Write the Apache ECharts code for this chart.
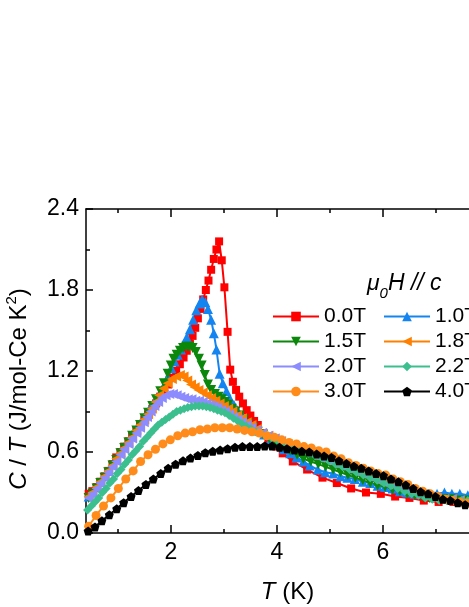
<!DOCTYPE html>
<html>
<head>
<meta charset="utf-8">
<title>C/T vs T</title>
<script src="https://cdn.jsdelivr.net/npm/echarts@6/dist/echarts.min.js"></script>
<style>
    html, body { margin: 0; padding: 0; background: #fff; overflow: hidden; }
    #main { width: 540px; height: 607px; }
</style>
</head>
<body>
<div id="main"></div>
<script>
// data: [T (K), C/T (J/mol-Ce K^2)]
var h00 = [[0.45,0.29],[0.52,0.31],[0.60,0.34],[0.67,0.38],[0.75,0.42],[0.82,0.46],[0.90,0.51],[0.97,0.56],[1.05,0.60],[1.12,0.64],[1.20,0.68],[1.27,0.72],[1.35,0.76],[1.42,0.80],[1.50,0.84],[1.57,0.88],[1.65,0.92],[1.72,0.96],[1.80,1.01],[1.87,1.05],[1.95,1.10],[2.02,1.15],[2.10,1.20],[2.17,1.25],[2.24,1.30],[2.30,1.35],[2.36,1.40],[2.41,1.46],[2.46,1.52],[2.51,1.59],[2.56,1.66],[2.61,1.73],[2.66,1.80],[2.71,1.87],[2.76,1.95],[2.81,2.03],[2.86,2.10],[2.91,2.16],[2.96,2.02],[3.01,1.82],[3.07,1.49],[3.12,1.21],[3.17,1.12],[3.23,1.06],[3.29,1.01],[3.36,0.96],[3.43,0.91],[3.50,0.87],[3.57,0.83],[3.64,0.80],[3.74,0.74],[3.84,0.69],[3.99,0.64],[4.11,0.59],[4.30,0.53],[4.57,0.47],[4.86,0.41],[5.13,0.37],[5.40,0.33],[5.68,0.30],[5.96,0.29],[6.23,0.27],[6.50,0.26],[6.77,0.24],[7.05,0.23],[7.33,0.23],[7.60,0.22]];
var h10 = [[0.45,0.27],[0.52,0.30],[0.60,0.34],[0.67,0.38],[0.75,0.42],[0.82,0.46],[0.90,0.51],[0.97,0.55],[1.05,0.60],[1.12,0.64],[1.20,0.68],[1.27,0.73],[1.35,0.77],[1.42,0.81],[1.50,0.86],[1.57,0.90],[1.65,0.95],[1.72,0.99],[1.80,1.04],[1.87,1.09],[1.94,1.15],[2.01,1.22],[2.07,1.27],[2.13,1.32],[2.19,1.36],[2.24,1.40],[2.30,1.45],[2.36,1.51],[2.42,1.58],[2.48,1.65],[2.54,1.70],[2.59,1.73],[2.65,1.71],[2.70,1.66],[2.76,1.58],[2.81,1.48],[2.86,1.36],[2.92,1.18],[2.98,1.11],[3.05,1.05],[3.12,0.99],[3.19,0.95],[3.26,0.91],[3.36,0.86],[3.45,0.81],[3.55,0.78],[3.65,0.76],[3.76,0.73],[3.88,0.69],[4.00,0.66],[4.13,0.62],[4.25,0.59],[4.37,0.56],[4.50,0.53],[4.62,0.50],[4.77,0.47],[4.91,0.45],[5.06,0.44],[5.20,0.42],[5.33,0.41],[5.47,0.40],[5.62,0.38],[5.76,0.37],[5.90,0.35],[6.04,0.34],[6.18,0.33],[6.32,0.31],[6.46,0.30],[6.60,0.29],[6.74,0.29],[6.88,0.29],[7.02,0.29],[7.16,0.30],[7.30,0.29],[7.45,0.29],[7.60,0.28]];
var h15 = [[0.45,0.26],[0.52,0.29],[0.60,0.33],[0.67,0.37],[0.75,0.41],[0.82,0.45],[0.90,0.50],[0.97,0.54],[1.05,0.59],[1.12,0.63],[1.20,0.67],[1.27,0.72],[1.35,0.76],[1.42,0.80],[1.50,0.85],[1.57,0.89],[1.65,0.94],[1.72,0.99],[1.80,1.05],[1.87,1.11],[1.94,1.18],[2.00,1.24],[2.05,1.29],[2.11,1.32],[2.17,1.35],[2.23,1.37],[2.29,1.38],[2.35,1.38],[2.41,1.37],[2.47,1.34],[2.53,1.29],[2.58,1.24],[2.64,1.17],[2.70,1.10],[2.76,1.06],[2.83,1.03],[2.90,1.01],[2.96,0.99],[3.02,0.97],[3.08,0.95],[3.15,0.92],[3.22,0.90],[3.30,0.87],[3.38,0.84],[3.46,0.81],[3.55,0.78],[3.64,0.75],[3.74,0.73],[3.86,0.70],[3.98,0.67],[4.12,0.64],[4.25,0.61],[4.38,0.58],[4.50,0.55],[4.64,0.53],[4.78,0.51],[4.92,0.49],[5.06,0.47],[5.20,0.45],[5.34,0.43],[5.48,0.41],[5.62,0.39],[5.76,0.37],[5.90,0.35],[6.04,0.34],[6.18,0.32],[6.32,0.31],[6.46,0.29],[6.60,0.28],[6.74,0.27],[6.88,0.26],[7.02,0.26],[7.16,0.25],[7.30,0.25],[7.45,0.24],[7.60,0.24]];
var h18 = [[0.45,0.27],[0.52,0.30],[0.60,0.34],[0.67,0.38],[0.75,0.42],[0.82,0.46],[0.90,0.50],[0.97,0.55],[1.05,0.59],[1.12,0.63],[1.20,0.67],[1.27,0.71],[1.35,0.76],[1.42,0.80],[1.50,0.84],[1.57,0.88],[1.64,0.92],[1.71,0.97],[1.78,1.02],[1.86,1.07],[1.94,1.11],[2.02,1.14],[2.10,1.16],[2.17,1.17],[2.24,1.16],[2.31,1.13],[2.38,1.10],[2.45,1.08],[2.52,1.06],[2.60,1.04],[2.68,1.02],[2.76,1.00],[2.84,0.98],[2.92,0.96],[3.00,0.94],[3.08,0.92],[3.16,0.90],[3.25,0.87],[3.34,0.85],[3.43,0.82],[3.52,0.80],[3.62,0.77],[3.72,0.74],[3.84,0.72],[3.96,0.70],[4.08,0.68],[4.20,0.66],[4.32,0.64],[4.44,0.62],[4.56,0.60],[4.68,0.58],[4.81,0.56],[4.94,0.54],[5.07,0.52],[5.20,0.50],[5.33,0.48],[5.46,0.46],[5.59,0.44],[5.72,0.42],[5.85,0.40],[5.98,0.38],[6.11,0.37],[6.24,0.35],[6.37,0.33],[6.50,0.31],[6.63,0.30],[6.76,0.28],[6.89,0.27],[7.02,0.26],[7.16,0.25],[7.30,0.25],[7.45,0.24],[7.60,0.24]];
var h20 = [[0.45,0.26],[0.52,0.29],[0.60,0.33],[0.67,0.37],[0.75,0.41],[0.82,0.45],[0.90,0.49],[0.97,0.53],[1.05,0.58],[1.12,0.62],[1.20,0.66],[1.27,0.70],[1.35,0.74],[1.42,0.78],[1.49,0.82],[1.55,0.86],[1.62,0.90],[1.69,0.94],[1.76,0.97],[1.83,1.00],[1.90,1.02],[1.97,1.03],[2.04,1.03],[2.11,1.02],[2.18,1.01],[2.25,1.00],[2.32,0.99],[2.39,0.99],[2.46,0.98],[2.53,0.98],[2.60,0.97],[2.67,0.96],[2.74,0.95],[2.81,0.94],[2.88,0.93],[2.95,0.91],[3.02,0.90],[3.10,0.88],[3.18,0.86],[3.26,0.84],[3.34,0.82],[3.43,0.80],[3.52,0.78],[3.62,0.76],[3.72,0.74],[3.83,0.72],[3.95,0.70],[4.07,0.68],[4.19,0.66],[4.31,0.64],[4.43,0.62],[4.55,0.60],[4.67,0.58],[4.80,0.56],[4.93,0.54],[5.06,0.52],[5.19,0.50],[5.32,0.48],[5.45,0.46],[5.58,0.44],[5.71,0.42],[5.84,0.40],[5.97,0.38],[6.10,0.36],[6.23,0.35],[6.36,0.33],[6.49,0.31],[6.62,0.30],[6.75,0.28],[6.88,0.27],[7.01,0.26],[7.15,0.25],[7.29,0.25],[7.44,0.24],[7.60,0.24]];
var h22 = [[0.43,0.17],[0.50,0.20],[0.57,0.23],[0.64,0.26],[0.71,0.30],[0.78,0.33],[0.85,0.37],[0.92,0.40],[0.99,0.44],[1.06,0.47],[1.13,0.51],[1.20,0.54],[1.27,0.58],[1.34,0.61],[1.41,0.64],[1.48,0.68],[1.55,0.71],[1.62,0.74],[1.69,0.77],[1.76,0.80],[1.83,0.82],[1.90,0.84],[1.97,0.86],[2.04,0.88],[2.11,0.90],[2.18,0.91],[2.25,0.92],[2.32,0.93],[2.39,0.935],[2.46,0.94],[2.53,0.94],[2.60,0.94],[2.67,0.935],[2.74,0.93],[2.81,0.92],[2.88,0.91],[2.95,0.90],[3.02,0.89],[3.10,0.87],[3.18,0.85],[3.26,0.83],[3.34,0.81],[3.42,0.79],[3.51,0.77],[3.60,0.75],[3.70,0.74],[3.80,0.72],[3.90,0.705],[4.00,0.69],[4.12,0.67],[4.24,0.65],[4.36,0.63],[4.48,0.61],[4.60,0.59],[4.72,0.575],[4.85,0.555],[4.98,0.535],[5.11,0.51],[5.24,0.49],[5.37,0.47],[5.50,0.45],[5.63,0.43],[5.76,0.41],[5.89,0.39],[6.02,0.37],[6.15,0.35],[6.28,0.33],[6.41,0.31],[6.54,0.29],[6.67,0.28],[6.80,0.26],[6.93,0.25],[7.06,0.24],[7.20,0.24],[7.34,0.24],[7.48,0.24],[7.60,0.24]];
var h30 = [[0.45,0.05],[0.59,0.13],[0.73,0.20],[0.87,0.26],[1.01,0.33],[1.15,0.40],[1.29,0.46],[1.43,0.53],[1.57,0.58],[1.71,0.62],[1.85,0.66],[1.99,0.69],[2.13,0.72],[2.27,0.74],[2.41,0.75],[2.55,0.765],[2.69,0.77],[2.83,0.78],[2.97,0.78],[3.11,0.78],[3.25,0.77],[3.39,0.76],[3.53,0.75],[3.67,0.74],[3.81,0.72],[3.95,0.71],[4.09,0.69],[4.23,0.67],[4.37,0.66],[4.51,0.64],[4.65,0.63],[4.79,0.61],[4.93,0.60],[5.07,0.57],[5.21,0.55],[5.35,0.52],[5.49,0.50],[5.63,0.48],[5.77,0.46],[5.91,0.44],[6.05,0.43],[6.19,0.40],[6.33,0.38],[6.47,0.36],[6.61,0.33],[6.75,0.31],[6.89,0.29],[7.03,0.27],[7.17,0.25],[7.31,0.24],[7.45,0.23],[7.59,0.22]];
var h40 = [[0.44,0.015],[0.57,0.045],[0.70,0.09],[0.84,0.135],[0.98,0.18],[1.11,0.225],[1.25,0.27],[1.39,0.315],[1.53,0.36],[1.67,0.40],[1.81,0.44],[1.95,0.48],[2.09,0.51],[2.23,0.535],[2.37,0.555],[2.51,0.575],[2.65,0.595],[2.79,0.605],[2.93,0.615],[3.07,0.625],[3.21,0.635],[3.35,0.64],[3.49,0.64],[3.63,0.64],[3.77,0.645],[3.91,0.645],[4.05,0.635],[4.19,0.625],[4.33,0.615],[4.47,0.605],[4.61,0.60],[4.75,0.585],[4.89,0.57],[5.03,0.56],[5.17,0.535],[5.31,0.515],[5.45,0.495],[5.59,0.48],[5.73,0.46],[5.87,0.44],[6.01,0.425],[6.15,0.40],[6.29,0.38],[6.43,0.355],[6.57,0.33],[6.71,0.305],[6.85,0.29],[6.99,0.27],[7.13,0.25],[7.27,0.24],[7.41,0.225],[7.55,0.21]];

var fieldNames = ['0.0T', '1.0T', '1.5T', '1.8T', '2.0T', '2.2T', '3.0T', '4.0T'];
var xMajorTicks = [2, 4, 6];
var xMinorTicks = [1, 3, 5, 7];

var fontFamily = 'Arial, "Liberation Sans", Helvetica, sans-serif';
var pentagon = 'path://M50 0 L97.6 34.5 L79.4 90.5 L20.6 90.5 L2.4 34.5 Z';

function lineSeries(name, data, color, symbol, size, rotate) {
    return {
        name: name,
        type: 'line',
        data: data,
        symbol: symbol,
        symbolSize: size,
        symbolRotate: rotate || 0,
        color: color,
        lineStyle: {width: 2, color: color},
        itemStyle: {color: color},
        emphasis: {disabled: true}
    };
}

function xAxisDef(position, ticks, len, showLine, showLabel) {
    return {
        type: 'value',
        position: position,
        min: 0.4,
        max: 8,
        name: showLabel ? '{i|T} (K)' : '',
        nameLocation: 'middle',
        nameGap: 47,
        nameTextStyle: {
            fontSize: 24, color: '#000', fontFamily: fontFamily,
            rich: {i: {fontSize: 24, fontStyle: 'italic', color: '#000', fontFamily: fontFamily}}
        },
        axisLine: {show: showLine, lineStyle: {color: '#000', width: 1.5}},
        axisTick: {show: true, inside: true, length: len, customValues: ticks, lineStyle: {color: '#000', width: 1.5}},
        axisLabel: {show: showLabel, customValues: ticks, margin: 8, fontSize: 23, color: '#000', fontFamily: fontFamily},
        splitLine: {show: false}
    };
}

function yAxisDef(position, showLabel) {
    return {
        type: 'value',
        position: position,
        min: 0,
        max: 2.4,
        interval: 0.6,
        name: showLabel ? '{i|C} / {i|T} (J/mol-Ce K{s|2})' : '',
        nameLocation: 'middle',
        nameRotate: 90,
        nameGap: 52,
        nameTextStyle: {
            fontSize: 24, color: '#000', fontFamily: fontFamily, lineHeight: 30,
            padding: [0, 36, 0, 0],
            rich: {
                i: {fontSize: 24, fontStyle: 'italic', color: '#000', fontFamily: fontFamily, lineHeight: 30},
                s: {fontSize: 15, color: '#000', fontFamily: fontFamily, lineHeight: 15, verticalAlign: 'top'}
            }
        },
        axisLine: {show: true, lineStyle: {color: '#000', width: 1.5}},
        axisTick: {show: true, inside: true, length: 7, lineStyle: {color: '#000', width: 1.5}},
        minorTick: {show: true, splitNumber: 2, length: 4, lineStyle: {color: '#000', width: 1.5}},
        axisLabel: {
            show: showLabel, margin: 7, fontSize: 23, color: '#000', fontFamily: fontFamily,
            formatter: function (v) { return v.toFixed(1); }
        },
        splitLine: {show: false}
    };
}

function legendDef(names, left) {
    return {
        data: names,
        orient: 'vertical',
        left: left,
        top: 301,
        itemWidth: 46,
        itemHeight: 12,
        itemGap: 4,
        selectedMode: false,
        textStyle: {fontSize: 21, color: '#000', fontFamily: fontFamily, lineHeight: 20}
    };
}

function initChart() {
    var myChart = echarts.init(document.getElementById('main'));
    var option = {
        animation: false,
        backgroundColor: '#fff',
        title: {
            text: '{a|μ}{b|0}{a|H // c}',
            left: 362,
            top: 262,
            textStyle: {
                fontWeight: 'normal',
                rich: {
                    a: {fontSize: 23, fontStyle: 'italic', fontWeight: 'normal', color: '#000', fontFamily: fontFamily, lineHeight: 34, verticalAlign: 'middle'},
                    b: {fontSize: 15, fontStyle: 'italic', fontWeight: 'normal', color: '#000', fontFamily: fontFamily, lineHeight: 15, verticalAlign: 'bottom'}
                }
            }
        },
        legend: [
            legendDef([fieldNames[0], fieldNames[2], fieldNames[4], fieldNames[6]], 267),
            legendDef([fieldNames[1], fieldNames[3], fieldNames[5], fieldNames[7]], 378)
        ],
        grid: {left: 86, top: 209, width: 403, height: 324, outerBoundsMode: 'none'},
        xAxis: [
            xAxisDef('bottom', xMajorTicks, 8, true, true),
            xAxisDef('bottom', xMinorTicks, 4, false, false),
            xAxisDef('top', xMajorTicks, 8, true, false),
            xAxisDef('top', xMinorTicks, 4, false, false)
        ],
        yAxis: [
            yAxisDef('left', true),
            yAxisDef('right', false)
        ],
        series: [
            lineSeries(fieldNames[0], h00, '#ff0000', 'rect', 8),
            lineSeries(fieldNames[1], h10, '#1485f0', 'triangle', 10),
            lineSeries(fieldNames[2], h15, '#0b870b', 'triangle', 10, 180),
            lineSeries(fieldNames[3], h18, '#ff8000', 'triangle', 10, 90),
            lineSeries(fieldNames[4], h20, '#8c8cff', 'triangle', 10, 90),
            lineSeries(fieldNames[5], h22, '#3cbf8f', 'diamond', 9),
            lineSeries(fieldNames[6], h30, '#ff8c1a', 'circle', 9),
            lineSeries(fieldNames[7], h40, '#000000', pentagon, 9)
        ]
    };
    myChart.setOption(option);
}

initChart();
</script>
</body>
</html>
